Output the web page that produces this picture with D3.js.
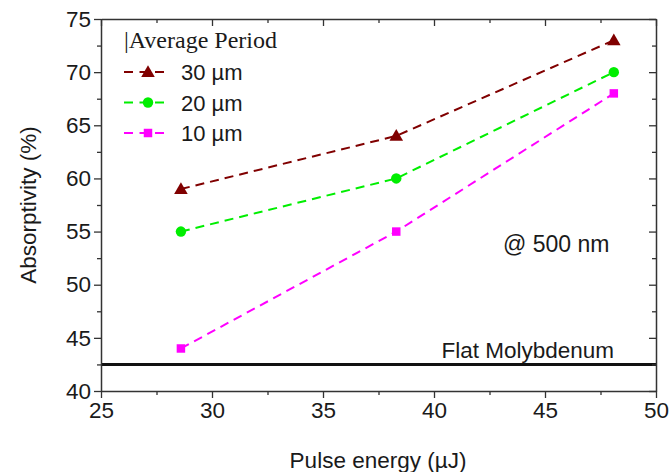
<!DOCTYPE html>
<html>
<head>
<meta charset="utf-8">
<script src="https://cdn.jsdelivr.net/npm/d3@7"></script>
<style>
  html, body { margin: 0; padding: 0; background: #fff; }
  svg { display: block; }
</style>
</head>
<body>
<script>
// ---- data ----
const pulseEnergy = [28.6, 38.3, 48.1];
const seriesNames = ["30 \u00b5m", "20 \u00b5m", "10 \u00b5m"];
const absorb30 = [59, 64, 73];
const absorb20 = [55, 60, 70];
const absorb10 = [44, 55, 68];
const flatMolybdenum = 42.5;
const xTicks = [25, 30, 35, 40, 45, 50];
const yTicks = [40, 45, 50, 55, 60, 65, 70, 75];
const xMinorTicks = [27.5, 32.5, 37.5, 42.5, 47.5];
const yMinorTicks = [42.5, 47.5, 52.5, 57.5, 62.5, 67.5, 72.5];

const W = 669, H = 472;
const m = {left: 101, right: 13, top: 19, bottom: 81};
const fontSans = "'Liberation Sans', Arial, Helvetica, sans-serif";
const fontSerif = "'Liberation Serif', 'Times New Roman', serif";
const textColor = "#1a1a1a";

const svg = d3.select("body").append("svg").attr("width", W).attr("height", H);

const x = d3.scaleLinear().domain([25, 50]).range([m.left, W - m.right]);
const y = d3.scaleLinear().domain([40, 75]).range([H - m.bottom, m.top]);

const frameColor = "#333";
const series = [
  {name: seriesNames[0], values: absorb30, color: "#800000", shape: d3.symbolTriangle, size: 80},
  {name: seriesNames[1], values: absorb20, color: "#00ee00", shape: d3.symbolCircle, size: 85},
  {name: seriesNames[2], values: absorb10, color: "#ff00ff", shape: d3.symbolSquare, size: 72}
];

// flat molybdenum reference line
svg.append("line")
  .attr("x1", x(25)).attr("x2", x(50))
  .attr("y1", y(flatMolybdenum)).attr("y2", y(flatMolybdenum))
  .attr("stroke", "#111").attr("stroke-width", 3);

// axes
function styleAxis(g) {
  g.selectAll("path").attr("stroke", frameColor).attr("stroke-width", 1.5);
  g.selectAll("line").attr("stroke", frameColor).attr("stroke-width", 1.3);
  g.selectAll("text").attr("font-family", fontSans).attr("font-size", 22.5).attr("fill", textColor);
}
const gB = svg.append("g").attr("transform", `translate(0,${y(40)})`)
  .call(d3.axisBottom(x).tickValues(xTicks).tickSize(7).tickSizeOuter(0).tickPadding(4).tickFormat(d3.format("d")));
styleAxis(gB);
const gBm = svg.append("g").attr("transform", `translate(0,${y(40)})`)
  .call(d3.axisBottom(x).tickValues(xMinorTicks).tickSize(4).tickSizeOuter(0).tickFormat(""));
styleAxis(gBm); gBm.select("path").remove();

const gL = svg.append("g").attr("transform", `translate(${x(25)},0)`)
  .call(d3.axisLeft(y).tickValues(yTicks).tickSize(7).tickSizeOuter(0).tickPadding(3).tickFormat(d3.format("d")));
styleAxis(gL);
const gLm = svg.append("g").attr("transform", `translate(${x(25)},0)`)
  .call(d3.axisLeft(y).tickValues(yMinorTicks).tickSize(4).tickSizeOuter(0).tickFormat(""));
styleAxis(gLm); gLm.select("path").remove();

const gT = svg.append("g").attr("transform", `translate(0,${y(75)})`)
  .call(d3.axisTop(x).tickValues(xTicks).tickSize(-7).tickSizeOuter(0).tickFormat(""));
styleAxis(gT);
const gTm = svg.append("g").attr("transform", `translate(0,${y(75)})`)
  .call(d3.axisTop(x).tickValues(xMinorTicks).tickSize(-4).tickSizeOuter(0).tickFormat(""));
styleAxis(gTm); gTm.select("path").remove();

const gR = svg.append("g").attr("transform", `translate(${x(50)},0)`)
  .call(d3.axisRight(y).tickValues(yTicks).tickSize(-7).tickSizeOuter(0).tickFormat(""));
styleAxis(gR);
const gRm = svg.append("g").attr("transform", `translate(${x(50)},0)`)
  .call(d3.axisRight(y).tickValues(yMinorTicks).tickSize(-4).tickSizeOuter(0).tickFormat(""));
styleAxis(gRm); gRm.select("path").remove();

// series
const line = d3.line().x((d, i) => x(pulseEnergy[i])).y(d => y(d));
series.forEach(s => {
  svg.append("path").datum(s.values)
    .attr("d", line).attr("fill", "none")
    .attr("stroke", s.color).attr("stroke-width", 2)
    .attr("stroke-dasharray", "9,6");
  svg.selectAll(null).data(s.values).enter().append("path")
    .attr("d", d3.symbol().type(s.shape).size(s.size))
    .attr("transform", (d, i) => `translate(${x(pulseEnergy[i])},${y(d) + (s.shape === d3.symbolTriangle ? 1 : 0)})`)
    .attr("fill", s.color);
});

// legend
svg.append("text").attr("x", 124).attr("y", 48)
  .attr("font-family", fontSerif).attr("font-size", 24).attr("fill", textColor)
  .text("|Average Period");
series.forEach((s, i) => {
  const cy = 72 + i * 30.5;
  svg.append("line").attr("x1", 124).attr("x2", 167).attr("y1", cy).attr("y2", cy)
    .attr("stroke", s.color).attr("stroke-width", 2).attr("stroke-dasharray", "9,6.5");
  svg.append("path").attr("d", d3.symbol().type(s.shape).size(s.size))
    .attr("transform", `translate(148,${cy + (s.shape === d3.symbolTriangle ? 1 : 0)})`)
    .attr("fill", s.color);
  svg.append("text").attr("x", 181).attr("y", cy + 8)
    .attr("font-family", fontSans).attr("font-size", 22).attr("fill", textColor)
    .text(s.name);
});

// annotations
svg.append("text").attr("x", 503).attr("y", 252)
  .attr("font-family", fontSans).attr("font-size", 23).attr("fill", textColor)
  .text("@ 500 nm");
svg.append("text").attr("x", 614).attr("y", 358).attr("text-anchor", "end")
  .attr("font-family", fontSans).attr("font-size", 22.5).attr("fill", textColor)
  .text("Flat Molybdenum");

// axis titles
svg.append("text").attr("x", 378).attr("y", 468)
  .attr("text-anchor", "middle")
  .attr("font-family", fontSans).attr("font-size", 22.5).attr("fill", textColor)
  .text("Pulse energy (\u00b5J)");
svg.append("text")
  .attr("transform", `translate(36,${(m.top + H - m.bottom) / 2}) rotate(-90)`)
  .attr("text-anchor", "middle")
  .attr("font-family", fontSans).attr("font-size", 22.5).attr("fill", textColor)
  .text("Absorptivity (%)");
</script>
</body>
</html>
